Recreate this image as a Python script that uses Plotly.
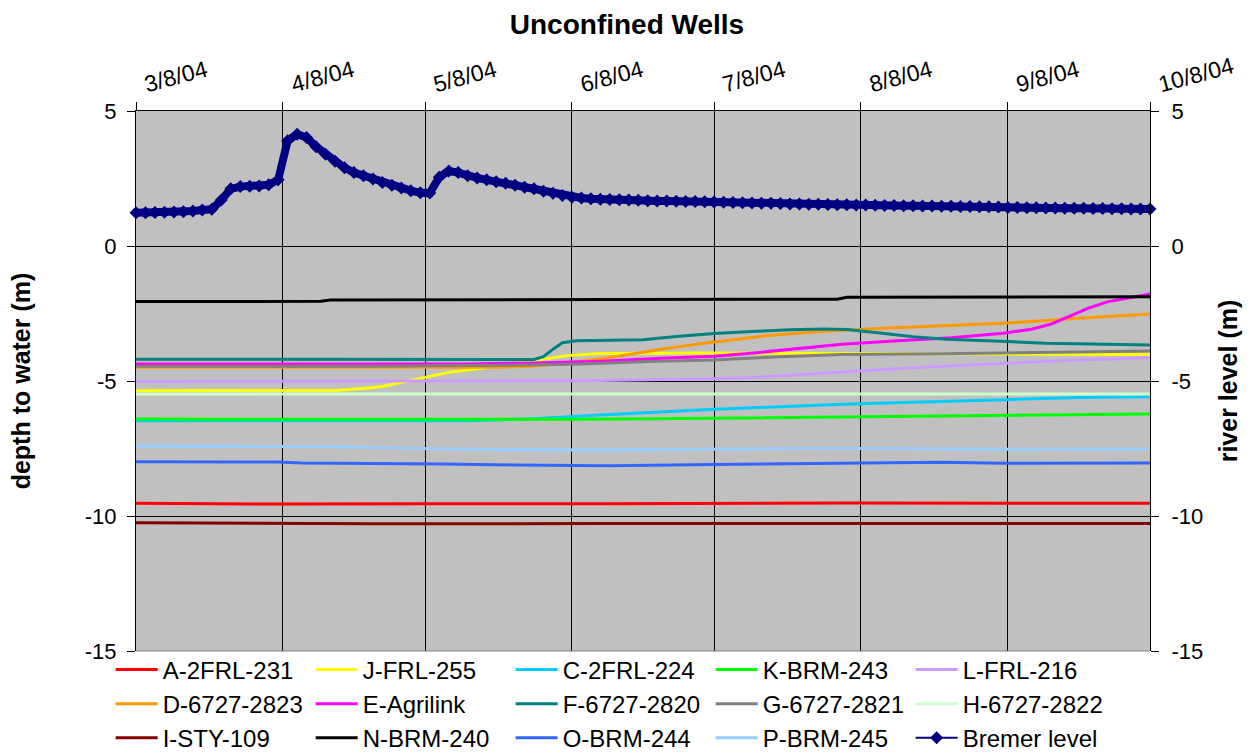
import plotly.graph_objects as go
import pandas as pd

# ---------------- data (days after 3/8/04, values in m) ----------------
start_date = "2004-03-08"
tick_days = [0, 31, 61, 92, 122, 153, 184, 214]
tick_labels = ["3/8/04", "4/8/04", "5/8/04", "6/8/04", "7/8/04", "8/8/04", "9/8/04", "10/8/04"]
y_ticks = [-15, -10, -5, 0, 5]
y_tick_labels = ["-15", "-10", "-5", "0", "5"]

A_days = [0, 30, 60, 100, 150, 214]
A_vals = [-9.53, -9.56, -9.55, -9.55, -9.52, -9.53]

J_days = [0, 35, 42, 48, 52, 56, 60, 66, 73, 80, 84, 91, 98, 120, 150, 214]
J_vals = [-5.36, -5.37, -5.35, -5.28, -5.2, -5.05, -4.9, -4.68, -4.53, -4.35, -4.22, -4.06, -3.98, -3.96, -3.98, -4.02]

C_days = [0, 70, 84, 98, 122, 131, 149, 183, 199, 214]
C_vals = [-6.47, -6.47, -6.4, -6.26, -6.05, -5.99, -5.86, -5.69, -5.61, -5.58]

K_days = [0, 94, 122, 149, 183, 214]
K_vals = [-6.41, -6.42, -6.38, -6.33, -6.28, -6.22]

L_days = [0, 60, 94, 122, 131, 149, 165, 183, 199, 214]
L_vals = [-5.02, -5.0, -4.99, -4.92, -4.86, -4.67, -4.5, -4.35, -4.22, -4.14]

D_days = [0, 77, 84, 91, 98, 105, 112, 119, 126, 133, 140, 149, 160, 183, 199, 214]
D_vals = [-4.49, -4.49, -4.44, -4.33, -4.18, -3.98, -3.8, -3.62, -3.46, -3.32, -3.22, -3.12, -3.03, -2.86, -2.68, -2.52]

E_days = [0, 70, 84, 98, 112, 122, 131, 140, 149, 160, 172, 183, 189, 193, 197, 201, 205, 210, 214]
E_vals = [-4.37, -4.37, -4.33, -4.27, -4.15, -4.08, -3.95, -3.79, -3.64, -3.52, -3.4, -3.23, -3.08, -2.9, -2.6, -2.3, -2.07, -1.9, -1.78]

F_days = [0, 84, 86, 88, 90, 93, 100, 107, 114, 122, 130, 138, 145, 150, 157, 164, 171, 178, 185, 192, 199, 206, 214]
F_vals = [-4.19, -4.2, -4.1, -3.82, -3.58, -3.51, -3.49, -3.47, -3.35, -3.24, -3.17, -3.1, -3.07, -3.09, -3.22, -3.36, -3.45, -3.51, -3.55, -3.6, -3.62, -3.65, -3.67]

G_days = [0, 50, 77, 94, 108, 122, 136, 149, 170, 184, 199, 214]
G_vals = [-4.45, -4.45, -4.42, -4.37, -4.28, -4.22, -4.1, -4.02, -3.99, -3.97, -3.93, -3.89]

H_days = [0, 100, 214]
H_vals = [-5.48, -5.47, -5.48]

I_days = [0, 50, 100, 214]
I_vals = [-10.25, -10.29, -10.28, -10.28]

N_days = [0, 39, 41, 70, 100, 148, 150, 214]
N_vals = [-2.06, -2.05, -2.0, -2.0, -1.98, -1.97, -1.9, -1.88]

O_days = [0, 30, 35, 50, 55, 65, 80, 100, 122, 149, 170, 183, 214]
O_vals = [-7.99, -8.0, -8.04, -8.06, -8.04, -8.07, -8.11, -8.14, -8.09, -8.05, -8.01, -8.05, -8.04]

P_days = [0, 40, 60, 80, 100, 140, 160, 183, 214]
P_vals = [-7.41, -7.43, -7.5, -7.55, -7.56, -7.5, -7.5, -7.53, -7.52]

bremer_days = list(range(0, 215, 2))
bremer_vals = [
    1.23, 1.23, 1.24, 1.25, 1.26, 1.27, 1.30, 1.33, 1.36, 1.70,   # d0-18
    2.12, 2.20, 2.21, 2.22, 2.27, 2.45, 3.90, 4.14, 4.02, 3.68,   # d20-38
    3.40, 3.14, 2.90, 2.72, 2.60, 2.48, 2.35, 2.25, 2.15, 2.05,   # d40-58
    1.97, 1.96, 2.55, 2.78, 2.72, 2.60, 2.52, 2.45, 2.38, 2.32,   # d60-78
    2.25, 2.18, 2.12, 2.03, 1.95, 1.87, 1.81, 1.78, 1.75, 1.73,   # d80-98
    1.72, 1.71, 1.70, 1.69, 1.68, 1.67, 1.67, 1.66, 1.65, 1.65,   # d100-118
    1.64, 1.63, 1.62, 1.61, 1.60, 1.59, 1.58, 1.58, 1.57, 1.56,   # d120-138
    1.56, 1.55, 1.55, 1.54, 1.53, 1.53, 1.52, 1.52, 1.51, 1.50,   # d140-158
    1.50, 1.49, 1.49, 1.48, 1.48, 1.47, 1.47, 1.46, 1.46, 1.45,   # d160-178
    1.45, 1.44, 1.43, 1.43, 1.42, 1.42, 1.41, 1.41, 1.40, 1.40,   # d180-198
    1.40, 1.39, 1.39, 1.38, 1.38, 1.37, 1.37, 1.37,               # d200-214
]

wells = [
    ("A-2FRL-231", A_days, A_vals, "#FF0000"),
    ("J-FRL-255", J_days, J_vals, "#FFFF00"),
    ("C-2FRL-224", C_days, C_vals, "#00CCFF"),
    ("K-BRM-243", K_days, K_vals, "#00FF00"),
    ("L-FRL-216", L_days, L_vals, "#CC99FF"),
    ("D-6727-2823", D_days, D_vals, "#FF9900"),
    ("E-Agrilink", E_days, E_vals, "#FF00FF"),
    ("F-6727-2820", F_days, F_vals, "#008080"),
    ("G-6727-2821", G_days, G_vals, "#808080"),
    ("H-6727-2822", H_days, H_vals, "#CCFFCC"),
    ("I-STY-109", I_days, I_vals, "#800000"),
    ("N-BRM-240", N_days, N_vals, "#000000"),
    ("O-BRM-244", O_days, O_vals, "#3366FF"),
    ("P-BRM-245", P_days, P_vals, "#99CCFF"),
]

t0 = pd.Timestamp(start_date)


def to_dates(days):
    return [t0 + pd.Timedelta(days=d) for d in days]


FONT = "Liberation Sans, Arial, sans-serif"
NAVY = "#000080"

fig = go.Figure()
for name, d, v, col in wells:
    fig.add_trace(go.Scatter(
        x=to_dates(d), y=v, name=name, mode="lines",
        line=dict(color=col, width=3), yaxis="y",
    ))

# thick band of the river level (same data), drawn under the diamond markers
fig.add_trace(go.Scatter(
    x=to_dates(bremer_days), y=bremer_vals, name="Bremer level",
    mode="lines", yaxis="y2", cliponaxis=False, showlegend=False,
    legendgroup="bremer", hoverinfo="skip",
    line=dict(color=NAVY, width=8),
))
fig.add_trace(go.Scatter(
    x=to_dates(bremer_days), y=bremer_vals, name="Bremer level",
    mode="lines+markers", yaxis="y2", cliponaxis=False,
    legendgroup="bremer",
    line=dict(color=NAVY, width=2),
    marker=dict(symbol="diamond", size=10, color=NAVY),
))

axis_common = dict(
    showline=True, linecolor="black", linewidth=1,
    ticks="outside", tickcolor="black", ticklen=8,
    automargin=False,
)

fig.update_layout(
    width=1254, height=753,
    margin=dict(l=136, r=104, t=111, b=102, autoexpand=False),
    paper_bgcolor="white",
    plot_bgcolor="#C0C0C0",
    font=dict(family=FONT, color="black", size=22),
    title=dict(text="<b>Unconfined Wells</b>", x=0.5, xref="container",
               y=1 - 24 / 753, yref="container", yanchor="middle",
               font=dict(size=28, family=FONT, color="black")),
    xaxis=dict(
        type="date", side="top",
        range=[t0, t0 + pd.Timedelta(days=214)],
        tickvals=to_dates(tick_days), ticktext=tick_labels,
        tickangle=-15, ticklabelshift=8,
        showgrid=True, gridcolor="black", gridwidth=1,
        zeroline=False, tickfont=dict(size=23, family=FONT, color="black"),
        **axis_common,
    ),
    yaxis=dict(
        range=[-15, 5], tickvals=y_ticks, ticktext=y_tick_labels,
        showgrid=True, gridcolor="black", gridwidth=1, zeroline=False,
        tickfont=dict(size=22, family=FONT, color="black"),
        ticklabelstandoff=6,
        title=dict(text="<b>depth to water (m)</b>", font=dict(size=25, family=FONT), standoff=47),
        **axis_common,
    ),
    yaxis2=dict(
        overlaying="y", side="right", anchor="x",
        range=[-15, 5], tickvals=y_ticks, ticktext=y_tick_labels,
        showgrid=False, zeroline=False,
        tickfont=dict(size=22, family=FONT, color="black"),
        ticklabelstandoff=8,
        title=dict(text="<b>river level (m)</b>", font=dict(size=25, family=FONT), standoff=17),
        **axis_common,
    ),
    legend=dict(
        orientation="h", x=-0.025, y=-0.2025, xanchor="left", yanchor="bottom",
        itemwidth=42, entrywidth=143, entrywidthmode="pixels",
        font=dict(size=24, family=FONT, color="black"),
        bgcolor="rgba(0,0,0,0)", traceorder="normal",
    ),
    showlegend=True,
    shapes=[dict(type="line", xref="paper", yref="paper", x0=0, x1=1, y0=0, y1=0,
                 line=dict(color="#808080", width=1), layer="above")],
)

fig.write_html("out.html", config={"displayModeBar": False},
               post_script="document.body.style.margin='0px';")
